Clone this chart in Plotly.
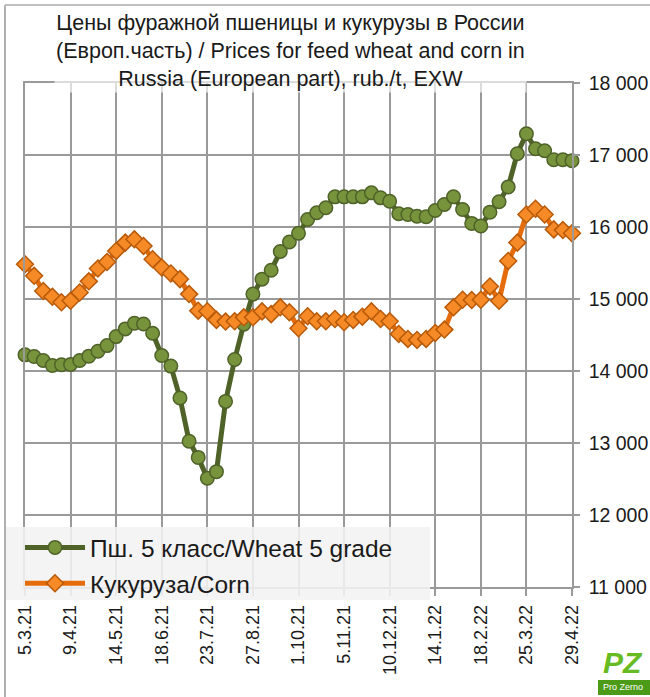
import pandas as pd
import plotly.graph_objects as go

# weekly dates 5.3.21 .. 29.4.22
dates = pd.date_range("2021-03-05", "2022-04-29", freq="7D")

wheat = [14224, 14201, 14146, 14077, 14086, 14090, 14146, 14206, 14275, 14353,
         14478, 14585, 14663, 14653, 14525, 14215, 14068, 13626, 13025, 12800,
         12510, 12602, 13578, 14160, 14650, 15068, 15276, 15400, 15659, 15791,
         15912, 16105, 16198, 16267, 16419, 16419, 16419, 16419, 16474, 16405,
         16358, 16183, 16174, 16150, 16142, 16230, 16313, 16419, 16243, 16050,
         16013, 16206, 16350, 16557, 17018, 17295, 17087, 17060, 16935, 16935,
         16921]

corn = [15483, 15322, 15110, 15030, 14955, 14975, 15090, 15245, 15423, 15515,
        15668, 15783, 15829, 15737, 15552, 15437, 15354, 15276, 15068, 14838,
        14830, 14710, 14686, 14690, 14745, 14745, 14828, 14790, 14884, 14815,
        14594, 14760, 14690, 14690, 14722, 14677, 14709, 14755, 14828, 14722,
        14690, 14515, 14446, 14432, 14446, 14529, 14575, 14884, 14990, 14985,
        14990, 15175, 14976, 15529, 15783, 16174, 16253, 16174, 15967, 15957,
        15912]

x_tick_dates = ["2021-03-05", "2021-04-09", "2021-05-14", "2021-06-18", "2021-07-23",
                "2021-08-27", "2021-10-01", "2021-11-05", "2021-12-10", "2022-01-14",
                "2022-02-18", "2022-03-25", "2022-04-29"]
x_tick_labels = ["5.3.21", "9.4.21", "14.5.21", "18.6.21", "23.7.21", "27.8.21",
                 "1.10.21", "5.11.21", "10.12.21", "14.1.22", "18.2.22", "25.3.22",
                 "29.4.22"]
y_tick_vals = [11000, 12000, 13000, 14000, 15000, 16000, 17000, 18000]
y_tick_labels = ["11 000", "12 000", "13 000", "14 000", "15 000", "16 000",
                 "17 000", "18 000"]

series_names = ["Пш. 5 класс/Wheat 5 grade", "Кукуруза/Corn"]
title_lines = ["Цены фуражной пшеницы и кукурузы в России",
               "(Европ.часть) / Prices for feed wheat and corn in",
               "Russia (European part), rub./t, EXW"]

FONT = "Arial, Liberation Sans, sans-serif"
GRID = "#9a9a9a"

# plot area geometry (px)
L, R, T, B = 25, 78, 83, 110
W, H = 650, 697
PW, PH = W - L - R, H - T - B


def px(xp):
    return (xp - L) / PW


def py(yp):
    return (H - B - yp) / PH


fig = go.Figure()
fig.add_trace(go.Scatter(
    x=dates, y=wheat, name=series_names[0], mode="lines+markers",
    legendgroup="w",
    line=dict(color="#4f6228", width=5),
    marker=dict(symbol="circle", size=13.5, color="#77933c",
                line=dict(color="#4f6228", width=1.5)),
    cliponaxis=False))
fig.add_trace(go.Scatter(
    x=dates, y=corn, name=series_names[1], mode="lines+markers",
    legendgroup="c",
    line=dict(color="#e46c0a", width=5),
    marker=dict(symbol="diamond", size=13, color="#f58a26",
                line=dict(color="#b85a0a", width=1.5)),
    cliponaxis=False))

fig.update_layout(
    width=W, height=H,
    margin=dict(l=L, r=R, t=T, b=B, autoexpand=False),
    paper_bgcolor="white", plot_bgcolor="white",
    font=dict(family=FONT, color="#1a1a1a"),
    showlegend=True,
    legend=dict(x=px(20), y=py(525), xanchor="left", yanchor="top",
                bgcolor="rgba(0,0,0,0)", font=dict(size=24.5, color="#1a1a1a"),
                itemwidth=60, tracegroupgap=1),
    xaxis=dict(type="date", range=[x_tick_dates[0], x_tick_dates[-1]],
               tickvals=x_tick_dates, ticktext=x_tick_labels, tickangle=-90,
               tickfont=dict(size=18, color="#1a1a1a"),
               showgrid=True, gridcolor=GRID, gridwidth=1.5,
               ticks="outside", ticklen=7, tickcolor=GRID, tickwidth=1.5,
               ticklabelstandoff=2, automargin=False,
               showline=True, linecolor=GRID, linewidth=1.5, mirror=True,
               zeroline=False),
    yaxis=dict(side="right", range=[11000, 18000],
               tickvals=y_tick_vals, ticktext=y_tick_labels,
               tickfont=dict(size=19.5, color="#1a1a1a"),
               showgrid=True, gridcolor=GRID, gridwidth=1.5,
               ticks="outside", ticklen=6, tickcolor=GRID, tickwidth=1.5,
               ticklabelstandoff=5, automargin=False,
               showline=True, linecolor=GRID, linewidth=1.5, mirror=True,
               zeroline=False),
)

shapes = [
    # legend background
    dict(type="rect", xref="paper", yref="paper", x0=px(5), x1=px(430),
         y0=py(600), y1=py(527), fillcolor="rgba(242,242,242,0.88)",
         line=dict(width=0), layer="above"),
    # outer frame (left & top)
    dict(type="line", xref="paper", yref="paper", x0=px(5), x1=px(5),
         y0=py(697), y1=py(5), line=dict(color="#b0b0b0", width=2)),
    dict(type="line", xref="paper", yref="paper", x0=px(5), x1=px(650),
         y0=py(5), y1=py(5), line=dict(color="#c0c0c0", width=2)),
    # logo strip
    dict(type="rect", xref="paper", yref="paper", x0=px(598), x1=px(650),
         y0=py(695), y1=py(680), fillcolor="#4b9a18", line=dict(width=0)),
]
fig.update_layout(shapes=shapes)

fig.add_annotation(
    xref="paper", yref="paper", x=px(290), y=py(51), xanchor="center",
    yanchor="middle", text="<br>".join(title_lines), showarrow=False,
    font=dict(size=21.5, color="#1a1a1a", family=FONT),
    bgcolor="rgba(255,255,255,0.65)", align="center")

fig.add_annotation(
    xref="paper", yref="paper", x=px(623), y=py(662), xanchor="center",
    yanchor="middle", text="<b><i>PZ</i></b>", showarrow=False,
    font=dict(size=30, color="#66bb22", family=FONT))
fig.add_annotation(
    xref="paper", yref="paper", x=px(623), y=py(687), xanchor="center",
    yanchor="middle", text="Pro Zerno", showarrow=False,
    font=dict(size=9, color="white", family=FONT))

fig.write_html("out.html",
               config={"displayModeBar": False},
               post_script="document.body.style.margin='0';"
                           "document.body.style.overflow='hidden';")
